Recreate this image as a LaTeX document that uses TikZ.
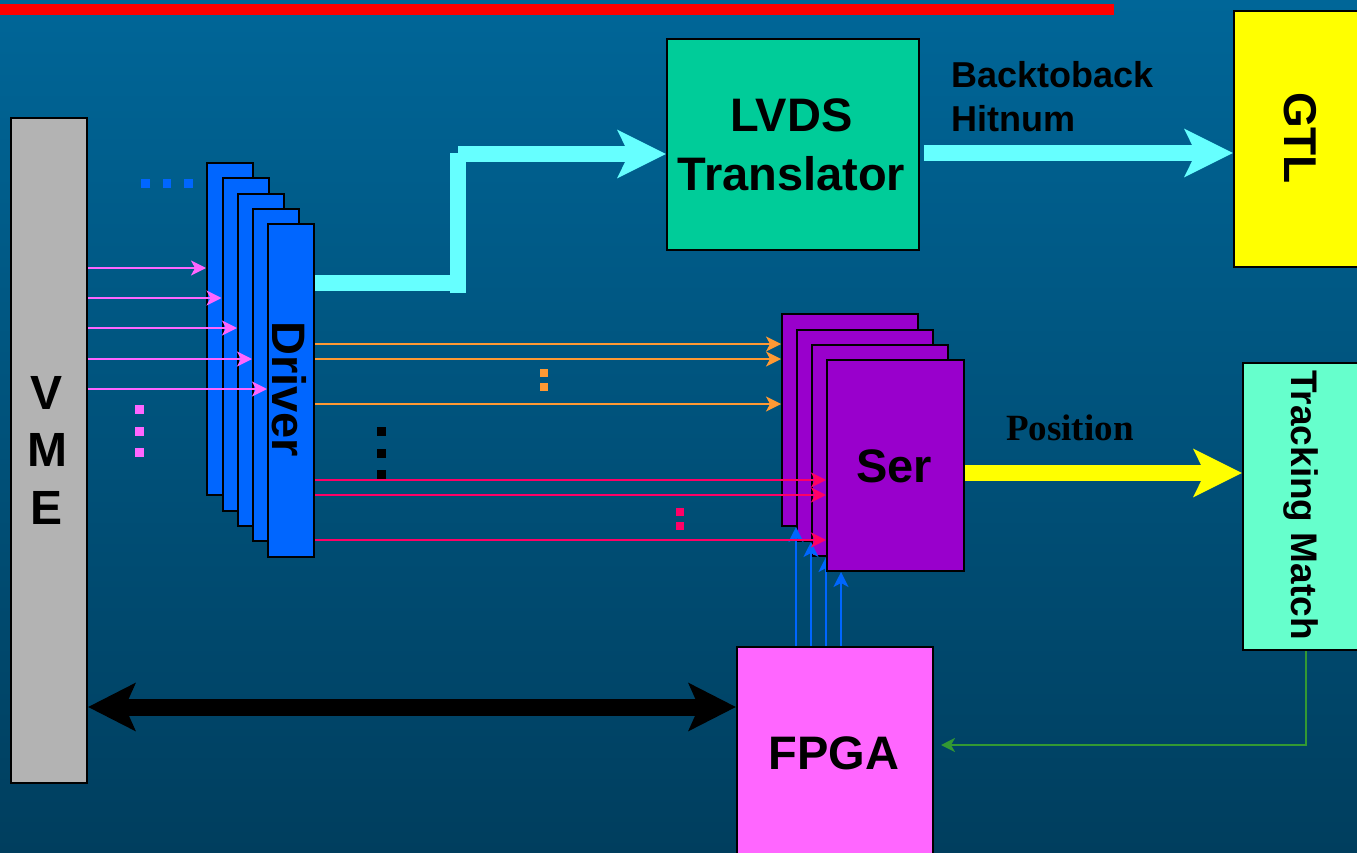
\documentclass[tikz,border=0pt]{standalone}
\usepackage{fontspec}
\setmainfont{Liberation Sans}
\newfontfamily\serifbf{Liberation Serif}
\usetikzlibrary{arrows.meta}
\definecolor{bgtop}{RGB}{0,102,152}
\definecolor{bgbot}{RGB}{0,62,94}
\definecolor{lvdsc}{RGB}{0,204,153}
\definecolor{gtlc}{RGB}{255,255,0}
\definecolor{tmc}{RGB}{102,255,204}
\definecolor{drvc}{RGB}{0,102,255}
\definecolor{serc}{RGB}{153,0,204}
\definecolor{fpgac}{RGB}{255,102,255}
\definecolor{vmec}{RGB}{179,179,179}
\definecolor{cyanc}{RGB}{102,255,255}
\definecolor{orc}{RGB}{255,153,51}
\definecolor{crc}{RGB}{255,0,102}
\definecolor{grc}{RGB}{51,153,51}
\definecolor{pkc}{RGB}{255,102,255}
\begin{document}
\begin{tikzpicture}[x=1pt,y=-1pt,
  box/.style={draw=black,line width=2pt,inner sep=0pt,anchor=north west},
  bigtext/.style={font=\fontsize{47}{58}\selectfont\bfseries,inner sep=0pt},
  thinarrow/.style={line width=1.8pt,-{Stealth[length=15pt,width=15pt,inset=4pt]}},
  fatline/.style={line width=16pt},
  fatarrow/.style={line width=16pt,-{Stealth[length=48pt,width=47pt,inset=11pt]}}]
\useasboundingbox (0,0) rectangle (1357,853);
\shade[top color=bgtop,bottom color=bgbot] (0,0) rectangle (1357,853);
\fill[red] (0,4) rectangle (1114,15);

% boxes
\node[box,fill=vmec,minimum width=76pt,minimum height=665pt] (vme) at (10,117) {};
\node[bigtext,align=center,font=\fontsize{48}{57.5}\selectfont\bfseries] (vmetext) at (47,450) {V\\M\\E};
\node[box,fill=lvdsc,minimum width=252pt,minimum height=211pt] (lvds) at (666,38) {};
\node[bigtext,align=center,font=\fontsize{47}{59}\selectfont\bfseries] (lvdstext) at (791.5,145) {LVDS\\Translator};
\node[box,fill=gtlc,minimum width=140pt,minimum height=256pt] (gtl) at (1233,10) {};
\node[bigtext,rotate=-90,font=\fontsize{46}{55}\selectfont\bfseries] (gtltext) at (1300,138) {GTL};
\node[box,fill=tmc,minimum width=130pt,minimum height=287pt] (tm) at (1242,362) {};
\node[rotate=-90,inner sep=0pt,font=\fontsize{37}{44}\selectfont\bfseries] (tmtext) at (1301,505) {Tracking Match};
\node[box,fill=fpgac,minimum width=196pt,minimum height=230pt] (fpga) at (736,646) {};
\node[bigtext] (fpgatext) at (834,753) {FPGA};

% driver stack
\node[box,fill=drvc,minimum width=46pt,minimum height=332pt] (d1) at (206,162) {};
\node[box,fill=drvc,minimum width=46pt,minimum height=332pt] (d2) at (221.5,177.5) {};
\node[box,fill=drvc,minimum width=46pt,minimum height=332pt] (d3) at (237,193) {};
\node[box,fill=drvc,minimum width=46pt,minimum height=332pt] (d4) at (252,208) {};
\node[box,fill=drvc,minimum width=46pt,minimum height=333pt] (d5) at (267,223) {};
\node[bigtext,rotate=-90] (drvtext) at (289,389) {Driver};

% blue dots
\fill[drvc] (141,179) rectangle +(8.5,9);
\fill[drvc] (162.5,179) rectangle +(8.5,9);
\fill[drvc] (184,179) rectangle +(8.5,9);

% pink arrows from VME
\draw[thinarrow,pkc] (vme.east |- 0,268) -- (d1.west |- 0,268);
\draw[thinarrow,pkc] (vme.east |- 0,298) -- (d2.west |- 0,298);
\draw[thinarrow,pkc] (vme.east |- 0,328) -- (d3.west |- 0,328);
\draw[thinarrow,pkc] (vme.east |- 0,359) -- (d4.west |- 0,359);
\draw[thinarrow,pkc] (vme.east |- 0,389) -- (d5.west |- 0,389);
\fill[pkc] (135,405) rectangle +(9,8.5);
\fill[pkc] (135,427) rectangle +(9,8.5);
\fill[pkc] (135,448) rectangle +(9,8.5);

% cyan path driver -> LVDS
\coordinate (cbend) at (458,283);
\draw[fatline,cyanc] (d5.east |- 0,283) -- (cbend);
\draw[fatline,cyanc] (458,293) -- (458,153);
\draw[fatarrow,cyanc] (458,154) -- (lvds.west |- 0,154);

% LVDS -> GTL
\draw[fatarrow,cyanc,shorten <=4pt] (lvds.east |- 0,153) -- (gtl.west |- 0,153);
\node[anchor=base west,inner sep=0pt,font=\fontsize{36}{44}\selectfont\bfseries] (bb) at (951,88) {Backtoback};
\node[anchor=base west,inner sep=0pt,font=\fontsize{36}{44}\selectfont\bfseries] (hn) at (951,132) {Hitnum};

% Ser stack (back three)
\node[box,fill=serc,minimum width=136pt,minimum height=212pt] (s1) at (781,313) {};
\node[box,fill=serc,minimum width=136pt,minimum height=211pt] (s2) at (796,329) {};
\node[box,fill=serc,minimum width=136pt,minimum height=211pt] (s3) at (811,344) {};

% orange arrows
\draw[thinarrow,orc] (d5.east |- 0,344) -- (s1.west |- 0,344);
\draw[thinarrow,orc] (d5.east |- 0,359) -- (s1.west |- 0,359);
\draw[thinarrow,orc] (d5.east |- 0,404) -- (s1.west |- 0,404);
\fill[orc] (540,369) rectangle +(8,8);
\fill[orc] (540,383) rectangle +(8,8);

% black dots
\fill[black] (377,427) rectangle +(9,9);
\fill[black] (377,449) rectangle +(9,8.5);
\fill[black] (377,470) rectangle +(9,9);

% blue arrows from FPGA
\draw[thinarrow,drvc] (fpga.north -| 796,0) -- (s1.south -| 796,0);
\draw[thinarrow,drvc] (fpga.north -| 811,0) -- (s2.south -| 811,0);
\draw[thinarrow,drvc] (fpga.north -| 826,0) -- (s3.south -| 826,0);

% front Ser
\node[box,fill=serc,minimum width=137pt,minimum height=211pt] (s4) at (826,359) {};
\node[bigtext] (sertext) at (894,466) {Ser};

% crimson arrows
\draw[thinarrow,crc] (d5.east |- 0,480) -- (s4.west |- 0,480);
\draw[thinarrow,crc] (d5.east |- 0,495) -- (s4.west |- 0,495);
\draw[thinarrow,crc] (d5.east |- 0,540) -- (s4.west |- 0,540);
\fill[crc] (676,508) rectangle +(8,8);
\fill[crc] (676,522) rectangle +(8,8);

\draw[thinarrow,drvc] (fpga.north -| 841,0) -- (s4.south -| 841,0);

% Ser -> Tracking Match
\draw[fatarrow,gtlc] (s4.east |- 0,473) -- (tm.west |- 0,473);
\node[anchor=base west,inner sep=0pt,font=\fontsize{37}{44}\selectfont\serifbf\bfseries] (pos) at (1006,440) {Position};

% Tracking Match -> FPGA
\coordinate (gcorner) at (1306,745);
\draw[grc,line width=1.8pt,-{Stealth[length=14pt,width=14pt,inset=4pt]},shorten >=7pt] (tm.south -| gcorner) -- (gcorner) -- (fpga.east |- gcorner);

% VME <-> FPGA
\draw[line width=17pt,black,{Stealth[length=47pt,width=47pt,inset=10pt]}-{Stealth[length=47pt,width=47pt,inset=10pt]}] (vme.east |- 0,707) -- (fpga.west |- 0,707);
\end{tikzpicture}
\end{document}
